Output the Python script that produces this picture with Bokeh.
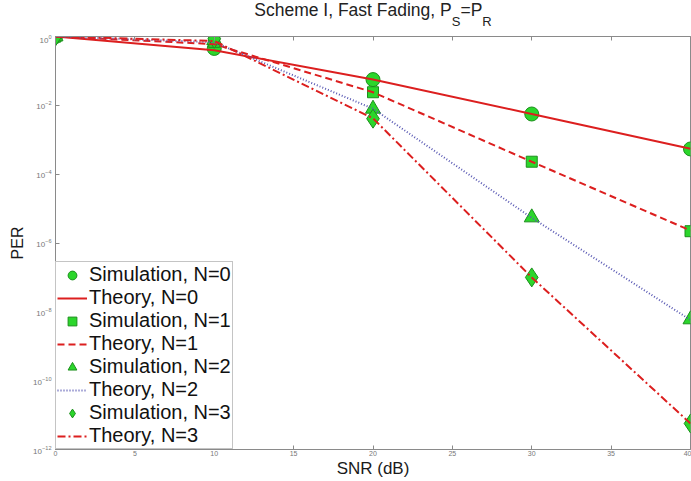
from bokeh.plotting import figure
from bokeh.layouts import column
from bokeh.models import (Range1d, LinearAxis, FixedTicker, Legend, LegendItem, Div)
from bokeh.embed import file_html
from bokeh.resources import INLINE

# ---------------- data ----------------
snr = [0, 10, 20, 30, 40]

sim_n0 = [1.0, 0.45, 0.056, 5.6e-3, 5.4e-4]
sim_n1 = [1.0, 0.70, 0.024, 2.3e-4, 2.2e-6]
sim_n2 = [1.0, 0.78, 7.9e-3, 5.5e-6, 6.0e-9]
sim_n3 = [1.0, 0.86, 4.1e-3, 1.0e-7, 5.7e-12]

th_n0 = [1.0, 0.40, 0.056, 5.6e-3, 5.5e-4]
th_n1 = [1.0, 0.60, 0.024, 2.3e-4, 2.3e-6]
th_n2 = [1.0, 0.68, 8.0e-3, 5.4e-6, 5.8e-9]
th_n3 = [1.0, 0.74, 4.2e-3, 1.0e-7, 5.7e-12]

x_ticks = [0, 5, 10, 15, 20, 25, 30, 35, 40]
y_ticks = [1e-12, 1e-10, 1e-8, 1e-6, 1e-4, 1e-2, 1e0]

title_main = "Scheme I, Fast Fading, P"
title_sub1 = "S"
title_mid = "=P"
title_sub2 = "R"

FONT = "Liberation Sans"
AX = "#8a8a8a"
GREEN = "#2bd62b"
GREEN_EDGE = "#1c8f1c"
RED = "#dc1f1f"
BLUE = "#5a5ab4"

W = 691
TITLE_H = 34
H = 481 - TITLE_H
B_LEFT, B_RIGHT, B_TOP, B_BOTTOM = 55, 1, 2, 32

sub_style = "font-size:13px;vertical-align:-10px;line-height:0;"
title_html = (
    f'<div style="font-family:\'{FONT}\';font-size:17.5px;color:#222222;'
    f'text-align:center;line-height:20px;padding-top:0px;margin-left:{B_LEFT}px;'
    f'width:{W - B_LEFT}px;white-space:nowrap;">'
    f'{title_main}<span style="{sub_style}">{title_sub1}</span>'
    f'{title_mid}<span style="{sub_style}">{title_sub2}</span></div>'
)
title_div = Div(text=title_html, width=W, height=TITLE_H, margin=0)

p = figure(width=W, height=H,
           x_range=Range1d(0, 40), y_range=Range1d(1e-12, 1.0),
           y_axis_type="log",
           output_backend="svg", toolbar_location=None,
           min_border_left=B_LEFT, min_border_right=B_RIGHT,
           min_border_top=B_TOP, min_border_bottom=B_BOTTOM)
p.grid.visible = False
p.outline_line_color = AX
p.outline_line_width = 1
p.background_fill_color = "white"
p.border_fill_color = "white"

# x axis (bottom)
xa = p.xaxis[0]
xa.ticker = FixedTicker(ticks=x_ticks)
xa.axis_label = "SNR (dB)"
# y axis (left)
ya = p.yaxis[0]
ya.ticker = FixedTicker(ticks=y_ticks)
ya.axis_label = "PER"

for ax in (xa, ya):
    ax.axis_line_color = AX
    ax.major_tick_line_color = AX
    ax.major_tick_in = 4
    ax.major_tick_out = 0
    ax.minor_tick_line_color = None
    ax.major_label_text_font = FONT
    ax.major_label_text_color = "#777777"
    ax.axis_label_text_font = FONT
    ax.axis_label_text_font_style = "normal"
    ax.axis_label_text_color = "#1a1a1a"

xa.major_label_text_font_size = "7px"
xa.major_label_standoff = 1
xa.axis_label_text_font_size = "17px"
xa.axis_label_standoff = 0
ya.major_label_text_font_size = "8px"
ya.major_label_standoff = 4
ya.axis_label_text_font_size = "16px"
ya.axis_label_standoff = 4

# top axis: ticks only
top = LinearAxis(ticker=FixedTicker(ticks=x_ticks), axis_line_color=AX,
                 major_tick_line_color=AX, major_tick_in=4, major_tick_out=0,
                 minor_tick_line_color=None,
                 major_label_overrides={t: "" for t in x_ticks},
                 major_label_text_font_size="1px",
                 major_label_standoff=0)
p.add_layout(top, "above")

# simulation markers
r_s0 = p.scatter(snr, sim_n0, marker="circle", size=14, fill_color=GREEN,
                 line_color=GREEN_EDGE, line_width=1)
r_s1 = p.scatter(snr, sim_n1, marker="square", size=11, fill_color=GREEN,
                 line_color=GREEN_EDGE, line_width=1)
r_s2 = p.scatter(snr, sim_n2, marker="triangle", size=15, fill_color=GREEN,
                 line_color=GREEN_EDGE, line_width=1)
r_s3 = p.scatter(snr, sim_n3, marker="diamond", size=19, fill_color=GREEN,
                 line_color=GREEN_EDGE, line_width=1)

# theory lines
r_t0 = p.line(snr, th_n0, line_color=RED, line_width=2)
r_t1 = p.line(snr, th_n1, line_color=RED, line_width=2, line_dash="7 4")
r_t2 = p.line(snr, th_n2, line_color=BLUE, line_width=2, line_dash="1 2")
r_t3 = p.line(snr, th_n3, line_color=RED, line_width=2, line_dash="8 3 2 3")

legend = Legend(items=[
    LegendItem(label="Simulation, N=0", renderers=[r_s0]),
    LegendItem(label="Theory, N=0", renderers=[r_t0]),
    LegendItem(label="Simulation, N=1", renderers=[r_s1]),
    LegendItem(label="Theory, N=1", renderers=[r_t1]),
    LegendItem(label="Simulation, N=2", renderers=[r_s2]),
    LegendItem(label="Theory, N=2", renderers=[r_t2]),
    LegendItem(label="Simulation, N=3", renderers=[r_s3]),
    LegendItem(label="Theory, N=3", renderers=[r_t3]),
], location="bottom_left")
legend.margin = 0
legend.padding = 1
legend.spacing = 0
legend.border_line_color = AX
legend.border_line_width = 1
legend.background_fill_color = "white"
legend.background_fill_alpha = 1.0
legend.label_text_font = FONT
legend.label_text_font_size = "20px"
legend.label_text_color = "#111111"
legend.label_standoff = 2
legend.glyph_width = 30
legend.glyph_height = 22
legend.label_height = 22
p.add_layout(legend, "center")

layout = column(title_div, p, spacing=0)
open("out.html", "w").write(file_html(layout, INLINE))
